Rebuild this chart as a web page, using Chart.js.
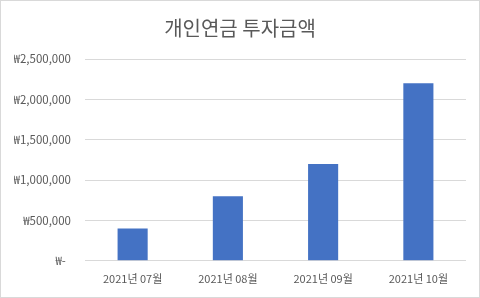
<!DOCTYPE html>
<html>
<head>
<meta charset="utf-8">
<script src="https://cdn.jsdelivr.net/npm/chart.js@4"></script>
<style>
  html, body { margin: 0; padding: 0; background: #fff; }
  canvas { display: block; }
</style>
</head>
<body>
<canvas id="investChart" width="480" height="298"></canvas>
<script>
// chart data
const months = ["2021년 07월", "2021년 08월", "2021년 09월", "2021년 10월"];
const amounts = [400000, 800000, 1200000, 2200000];
const yTicks = [0, 500000, 1000000, 1500000, 2000000, 2500000];

const textColor = "#595959";
const fontFamily = "'Noto Sans CJK KR', 'Noto Sans', sans-serif";

// white background + thin outer frame like the excel chart box
const frame = {
  id: "frame",
  beforeDraw(chart) {
    const ctx = chart.ctx;
    ctx.save();
    ctx.fillStyle = "#fff";
    ctx.fillRect(0, 0, chart.width, chart.height);
    ctx.strokeStyle = "#D9D9D9";
    ctx.lineWidth = 1;
    ctx.strokeRect(0.5, 0.5, chart.width - 1, chart.height - 1);
    ctx.restore();
  }
};

function wonLabel(v) {
  if (v === 0) return "₩-  ";
  return "₩" + v.toLocaleString("en-US");
}

const ctx = document.getElementById("investChart").getContext("2d");
new Chart(ctx, {
  type: "bar",
  data: {
    labels: months,
    datasets: [{
      label: "투자금액",
      data: amounts,
      backgroundColor: "#4472C4",
      categoryPercentage: 1,
      barPercentage: 0.316
    }]
  },
  options: {
    responsive: false,
    animation: false,
    // symmetric side padding keeps the title centred on the canvas
    layout: { padding: { left: 14, right: 14, top: 0, bottom: 2 } },
    plugins: {
      legend: { display: false },
      tooltip: { enabled: false },
      title: {
        display: true,
        text: "개인연금 투자금액",
        color: textColor,
        font: { family: fontFamily, size: 20, weight: "normal" },
        padding: { top: 16, bottom: 19 }
      }
    },
    scales: {
      x: {
        grid: { display: false, drawTicks: false },
        border: { display: false },
        ticks: {
          color: textColor,
          font: { family: fontFamily, size: 11 },
          padding: 11,
          maxRotation: 0
        }
      },
      y: {
        min: 0,
        max: 2500000,
        afterFit(scale) { scale.width = 71; },
        afterBuildTicks(scale) { scale.ticks = yTicks.map(v => ({ value: v })); },
        grid: { color: "#D9D9D9", drawTicks: false },
        border: { display: false },
        ticks: {
          color: textColor,
          font: { family: fontFamily, size: 11.5 },
          padding: 14,
          callback: (v) => wonLabel(v)
        }
      }
    }
  },
  plugins: [frame]
});
</script>
</body>
</html>
